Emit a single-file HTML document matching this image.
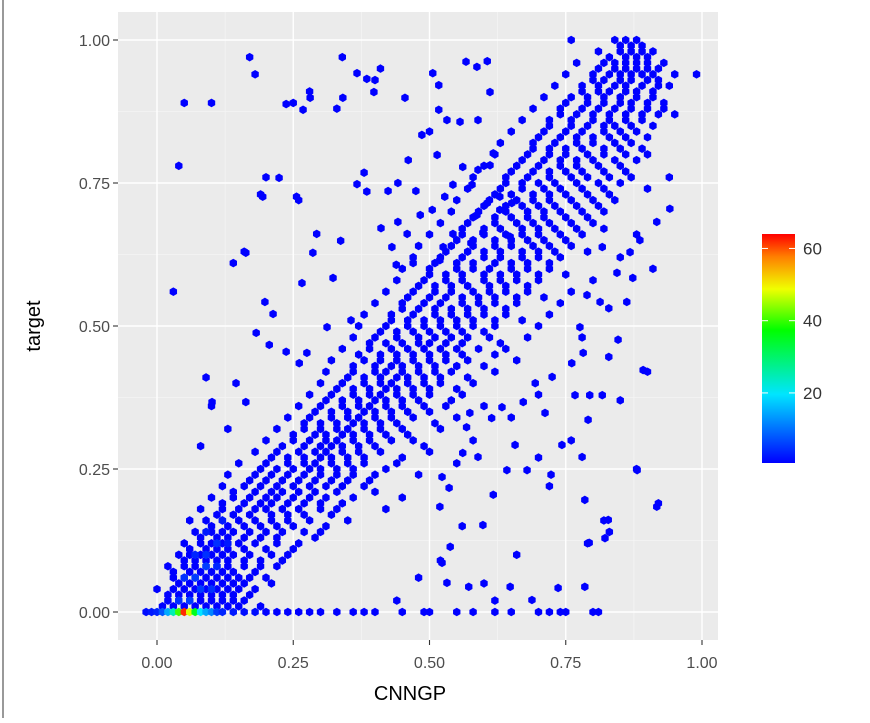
<!DOCTYPE html>
<html><head><meta charset="utf-8"><style>
body{margin:0;background:#fff;}
svg text{font-family:"Liberation Sans",sans-serif;}
</style></head><body>
<svg id="chart" width="870" height="718" xmlns="http://www.w3.org/2000/svg">
<rect x="0" y="0" width="870" height="718" fill="#fff"/>
<line x1="3" y1="0" x2="3" y2="718" stroke="#999" stroke-width="2"/>
<rect x="118" y="12" width="600" height="628" fill="#ebebeb"/>
<g id="grid"></g>
<g id="hexes"></g>
<g id="axes"></g>
<text x="410" y="700" font-size="20" text-anchor="middle" fill="#000">CNNGP</text>
<text x="40" y="326" font-size="20" text-anchor="middle" fill="#000" transform="rotate(-90 40 326)">target</text>
<defs><linearGradient id="cb" x1="0" y1="1" x2="0" y2="0">
<stop offset="0" stop-color="#0000ff"/><stop offset="0.3" stop-color="#00e5ff"/>
<stop offset="0.58" stop-color="#00ff00"/><stop offset="0.76" stop-color="#f0ff00"/>
<stop offset="0.9" stop-color="#ff8000"/><stop offset="1" stop-color="#ff0000"/></linearGradient></defs>
<rect x="762" y="234" width="33" height="229" fill="url(#cb)"/>
<g id="legend"></g>
</svg>
<script>
const xTicks=[0,0.25,0.5,0.75,1];
const xTickLabels=["0.00","0.25","0.50","0.75","1.00"];
const yTicks=[0,0.25,0.5,0.75,1];
const yTickLabels=["0.00","0.25","0.50","0.75","1.00"];
const legendValues=[20,40,60];
const rowY=[0.02,0.04,0.06,0.08,0.10,0.12,0.14,0.16,0.18,0.20,0.22,0.24,0.26,0.28,0.30,0.32,0.34,0.36,0.38,0.40,0.42,0.44,0.46,0.48,0.50,0.52,0.54,0.56,0.58,0.60,0.62,0.64,0.66,0.68,0.70,0.72,0.74,0.76,0.78,0.80,0.82,0.84,0.86,0.88,0.90,0.92,0.94,0.96,0.98,1.00];
const rowX=[
[0.02,0.04,0.06,0.08,0.10,0.12,0.14,0.16],
[0.0,0.03,0.05,0.07,0.09,0.11,0.13,0.15,0.18],
[0.03,0.05,0.07,0.09,0.11,0.13,0.15,0.17,0.20],
[0.02,0.05,0.07,0.09,0.11,0.13,0.16,0.19,0.22],
[0.04,0.06,0.08,0.10,0.12,0.14,0.17,0.21,0.24],
[0.05,0.08,0.10,0.12,0.15,0.18,0.22,0.26],
[0.07,0.10,0.12,0.14,0.17,0.20,0.23,0.27,0.30],
[0.06,0.09,0.12,0.15,0.18,0.21,0.24,0.28,0.35],
[0.08,0.12,0.15,0.18,0.20,0.23,0.26,0.30,0.33,0.42],
[0.10,0.14,0.17,0.20,0.22,0.25,0.28,0.31,0.36,0.45],
[0.12,0.16,0.19,0.22,0.25,0.28,0.31,0.34,0.38],
[0.13,0.18,0.21,0.24,0.27,0.30,0.33,0.36,0.40,0.48],
[0.15,0.20,0.24,0.27,0.29,0.32,0.35,0.38,0.44,0.55],
[0.18,0.22,0.26,0.29,0.31,0.34,0.37,0.41,0.50],
[0.20,0.25,0.28,0.31,0.33,0.36,0.39,0.43,0.47,0.58],
[0.22,0.27,0.30,0.33,0.35,0.38,0.41,0.45,0.52],
[0.24,0.28,0.32,0.35,0.37,0.40,0.43,0.47,0.55,0.65],
[0.26,0.30,0.34,0.37,0.39,0.42,0.45,0.49,0.53,0.60],
[0.28,0.32,0.36,0.39,0.41,0.44,0.47,0.50,0.56,0.70],
[0.30,0.34,0.38,0.41,0.43,0.46,0.49,0.52,0.58],
[0.31,0.36,0.40,0.42,0.45,0.48,0.51,0.54,0.62,0.90],
[0.32,0.38,0.41,0.44,0.47,0.50,0.53,0.57,0.66],
[0.34,0.39,0.43,0.46,0.49,0.52,0.55,0.59,0.64],
[0.36,0.40,0.44,0.48,0.51,0.54,0.57,0.61,0.68,0.78],
[0.37,0.42,0.46,0.49,0.52,0.55,0.58,0.62,0.70],
[0.38,0.43,0.47,0.51,0.54,0.57,0.60,0.64,0.72],
[0.40,0.45,0.49,0.52,0.56,0.59,0.62,0.66,0.74],
[0.42,0.47,0.51,0.54,0.58,0.61,0.64,0.68,0.76],
[0.44,0.49,0.53,0.56,0.60,0.63,0.66,0.70,0.80],
[0.45,0.50,0.55,0.58,0.61,0.65,0.68,0.72],
[0.47,0.52,0.56,0.60,0.63,0.67,0.70,0.74,0.85],
[0.48,0.54,0.58,0.62,0.65,0.69,0.72,0.76],
[0.50,0.56,0.60,0.64,0.67,0.70,0.74,0.78,0.88],
[0.52,0.57,0.62,0.66,0.69,0.72,0.76,0.80],
[0.54,0.59,0.64,0.68,0.71,0.74,0.78,0.82],
[0.55,0.61,0.66,0.69,0.72,0.76,0.80,0.84],
[0.57,0.63,0.67,0.71,0.74,0.78,0.82,0.90],
[0.58,0.64,0.68,0.72,0.76,0.79,0.83,0.87],
[0.60,0.66,0.70,0.74,0.77,0.81,0.85],
[0.62,0.68,0.72,0.75,0.79,0.82,0.86,0.90],
[0.63,0.69,0.73,0.77,0.80,0.84,0.87],
[0.50,0.65,0.71,0.75,0.78,0.82,0.85,0.88],
[0.67,0.72,0.76,0.80,0.83,0.86,0.89],
[0.69,0.74,0.78,0.81,0.84,0.87,0.90,0.93],
[0.71,0.76,0.79,0.82,0.85,0.88,0.91],
[0.73,0.78,0.81,0.84,0.86,0.89,0.92,0.94],
[0.75,0.80,0.83,0.85,0.87,0.89,0.91,0.95],
[0.77,0.82,0.84,0.86,0.88,0.90,0.93],
[0.81,0.85,0.87,0.89,0.91],
[0.76,0.84,0.86,0.88]];
const rowY2=[0.01,0.03,0.05,0.07,0.09,0.11,0.13,0.15,0.17,0.19,0.21,0.23,0.25,0.27,0.29,0.31,0.33,0.35,0.37,0.39,0.41,0.43,0.45,0.47,0.49,0.51,0.53,0.55,0.57,0.59,0.61,0.63,0.65,0.67,0.69,0.71,0.73,0.75,0.77,0.79,0.81,0.83,0.85,0.87,0.89,0.91,0.93,0.95,0.97,0.99];
const rowX2=[
[0.01,0.03,0.05,0.07,0.09,0.11,0.13,0.15,0.19],
[0.02,0.04,0.06,0.08,0.10,0.12,0.14,0.17],
[0.04,0.06,0.08,0.10,0.12,0.14,0.16,0.21],
[0.03,0.06,0.08,0.10,0.12,0.14,0.18],
[0.05,0.07,0.09,0.11,0.13,0.16,0.19,0.23],
[0.06,0.09,0.11,0.13,0.16,0.20,0.25],
[0.08,0.11,0.13,0.16,0.19,0.22,0.29],
[0.10,0.13,0.16,0.19,0.22,0.25,0.31],
[0.11,0.14,0.17,0.21,0.24,0.27,0.32],
[0.12,0.16,0.19,0.21,0.24,0.27,0.30,0.34],
[0.14,0.18,0.21,0.23,0.26,0.29,0.33,0.40],
[0.17,0.20,0.23,0.26,0.29,0.32,0.35,0.39],
[0.19,0.22,0.25,0.28,0.30,0.33,0.36,0.42],
[0.21,0.24,0.27,0.30,0.32,0.35,0.38,0.45],
[0.23,0.27,0.30,0.32,0.34,0.37,0.40,0.49],
[0.25,0.29,0.31,0.34,0.36,0.39,0.42,0.46],
[0.27,0.30,0.33,0.36,0.38,0.41,0.44,0.51],
[0.29,0.32,0.35,0.38,0.40,0.43,0.46,0.50],
[0.31,0.34,0.37,0.40,0.42,0.45,0.48,0.54],
[0.33,0.36,0.39,0.42,0.44,0.47,0.50,0.55],
[0.35,0.38,0.41,0.44,0.46,0.49,0.52,0.57],
[0.36,0.40,0.43,0.45,0.48,0.51,0.55,0.60],
[0.37,0.41,0.44,0.47,0.50,0.53,0.56,0.62],
[0.39,0.42,0.45,0.48,0.50,0.53,0.56,0.63],
[0.41,0.44,0.47,0.50,0.53,0.56,0.60],
[0.43,0.46,0.49,0.52,0.55,0.58,0.62,0.67],
[0.45,0.48,0.51,0.54,0.57,0.60,0.64],
[0.46,0.50,0.53,0.56,0.59,0.62,0.66,0.71],
[0.48,0.51,0.54,0.57,0.61,0.64,0.68],
[0.50,0.53,0.56,0.60,0.63,0.66,0.70,0.75],
[0.51,0.55,0.58,0.62,0.65,0.68,0.72],
[0.53,0.57,0.60,0.63,0.67,0.70,0.73,0.79],
[0.55,0.58,0.62,0.65,0.68,0.71,0.75],
[0.56,0.60,0.63,0.67,0.70,0.73,0.77,0.82],
[0.58,0.62,0.65,0.68,0.71,0.75,0.79],
[0.60,0.64,0.67,0.70,0.73,0.77,0.81],
[0.62,0.65,0.69,0.72,0.75,0.79,0.83],
[0.64,0.67,0.70,0.73,0.77,0.81,0.85],
[0.65,0.69,0.72,0.75,0.78,0.82,0.86],
[0.67,0.71,0.74,0.77,0.80,0.84,0.88],
[0.69,0.72,0.75,0.78,0.82,0.85,0.89],
[0.70,0.74,0.77,0.80,0.83,0.86,0.90],
[0.72,0.76,0.79,0.82,0.84,0.87,0.91],
[0.74,0.77,0.80,0.83,0.86,0.89,0.92],
[0.75,0.79,0.82,0.85,0.87,0.90,0.93],
[0.78,0.81,0.83,0.86,0.88,0.91],
[0.80,0.82,0.85,0.87,0.90,0.92],
[0.81,0.84,0.86,0.88,0.90,0.92],
[0.83,0.86,0.88,0.90],
[0.85,0.87,0.89]];
const outlierX=[0.05,0.10,0.04,0.17,0.18,0.03,0.09,0.20,0.26,0.19,0.25,0.28,0.34,0.41,0.40,0.33,0.14,0.16,0.13,0.08,0.10,0.92,0.88,0.82,0.79,0.83,0.76,0.85,0.91,0.94,0.95,0.99,0.60,0.66,0.56,0.70,0.72,0.48,0.44,0.52,0.62];
const outlierY=[0.89,0.89,0.78,0.97,0.94,0.56,0.41,0.76,0.72,0.73,0.89,0.91,0.97,0.95,0.93,0.88,0.61,0.63,0.32,0.29,0.36,0.19,0.25,0.16,0.12,0.14,0.30,0.37,0.60,0.76,0.87,0.94,0.05,0.10,0.15,0.27,0.22,0.06,0.02,0.09,0.02];
const scatterX=[0.776,0.846,0.829,0.892,0.761,0.782,0.725,0.694,0.767,0.794,0.817,0.791,0.712,0.672,0.633,0.614,0.574,0.568,0.657,0.743,0.780,0.881,0.723,0.679,0.642,0.589,0.561,0.617,0.785,0.917,0.598,0.828,0.536,0.523,0.519,0.538,0.523,0.532,0.572,0.648,0.736,0.785,0.688,0.793,0.822,0.886,0.917,0.941,0.862,0.829,0.873,0.844,0.813,0.789,0.868,0.817,
0.163,0.286,0.293,0.337,0.194,0.256,0.224,0.367,0.380,0.385,0.424,0.442,0.475,0.411,0.442,0.431,0.439,0.323,0.266,0.198,0.213,0.182,0.206,0.237,0.275,0.261,0.145,0.101,0.163,0.356,0.312,0.281,0.341,0.268,0.237,0.455,0.398,0.385,0.367,0.517,0.506,0.517,0.532,0.556,0.486,0.461,0.514,0.567,0.587,0.606,0.611,0.589,0.561,0.589,0.611,0.617,0.543,0.578,0.528,0.606,0.629,0.651,0.629,0.587,0.483,0.505,0.543,0.459,0.525,0.576,0.598,0.648,0.470,0.519];
const scatterY=[0.498,0.476,0.446,0.423,0.435,0.453,0.411,0.400,0.379,0.379,0.379,0.336,0.348,0.367,0.358,0.339,0.348,0.323,0.292,0.292,0.271,0.248,0.240,0.248,0.248,0.271,0.278,0.205,0.196,0.184,0.152,0.161,0.217,0.236,0.184,0.114,0.086,0.051,0.044,0.044,0.042,0.044,0.021,0.121,0.129,0.650,0.682,0.705,0.542,0.531,0.584,0.593,0.542,0.554,0.629,0.638,
0.628,0.628,0.661,0.649,0.726,0.726,0.759,0.748,0.768,0.735,0.736,0.750,0.736,0.671,0.682,0.638,0.607,0.584,0.575,0.542,0.521,0.488,0.467,0.455,0.453,0.435,0.400,0.367,0.367,0.510,0.498,0.899,0.899,0.878,0.888,0.899,0.909,0.932,0.942,0.921,0.942,0.878,0.860,0.857,0.834,0.790,0.799,0.962,0.953,0.963,0.909,0.860,0.778,0.773,0.781,0.802,0.747,0.747,0.726,0.715,0.726,0.715,0.703,0.694,0.694,0.703,0.661,0.661,0.638,0.645,0.663,0.656,0.610,0.615];
const bottomX=[-0.02,-0.01,0.0,0.01,0.02,0.03,0.04,0.05,0.06,0.07,0.08,0.09,0.10,0.11,0.12,0.14,0.16,0.18,0.20,0.22,0.24,0.26,0.28,0.30,0.33,0.36,0.38,0.40,0.45,0.49,0.50,0.55,0.58,0.62,0.65,0.70,0.72,0.74,0.75,0.80,0.81];
const bottomCount=[2,3,4,8,15,25,40,62,48,35,20,15,12,6,4,3,2,2,1,1,1,1,1,1,1,1,1,1,1,1,1,1,1,1,1,1,1,1,1,1,1];
const clusterX=[0.04,0.06,0.08,0.10,0.05,0.07,0.09,0.11,0.07,0.09,0.11,0.13,0.09,0.12];
const clusterY=[0.02,0.02,0.04,0.04,0.06,0.06,0.08,0.08,0.10,0.10,0.12,0.12,0.14,0.16];
const clusterCount=[5,6,6,5,5,6,6,4,4,5,5,3,3,3];

const X0=157,X1=702,Y0=612,Y1=40;
const sx=v=>X0+(X1-X0)*v, sy=v=>Y0-(Y0-Y1)*v;
const NS="http://www.w3.org/2000/svg";
function mk(tag,attrs,parent){const e=document.createElementNS(NS,tag);for(const k in attrs)e.setAttribute(k,attrs[k]);parent.appendChild(e);return e;}
const grid=document.getElementById('grid'),axes=document.getElementById('axes'),hexG=document.getElementById('hexes'),leg=document.getElementById('legend');
for(let i=0;i<xTicks.length-1;i++){
  const m=(xTicks[i]+xTicks[i+1])/2;
  const g=mk('line',{x1:sx(m),x2:sx(m),y1:12,y2:640,stroke:'#f5f5f5','stroke-width':0.7},grid);
  
  const m2=(yTicks[i]+yTicks[i+1])/2;
  const h=mk('line',{x1:118,x2:718,y1:sy(m2),y2:sy(m2),stroke:'#f5f5f5','stroke-width':0.7},grid);
  
}
xTicks.forEach((v,i)=>{
  const g=mk('line',{x1:sx(v),x2:sx(v),y1:12,y2:640,stroke:'#fff','stroke-width':1.4},grid);
  
  const t=mk('line',{x1:sx(v),x2:sx(v),y1:640,y2:645,stroke:'#333','stroke-width':1.1},axes);
  
  const l=mk('text',{x:sx(v),y:668,'font-size':16,'text-anchor':'middle',fill:'#4d4d4d'},axes);
  l.textContent=xTickLabels[i];
  
});
yTicks.forEach((v,i)=>{
  const g=mk('line',{x1:118,x2:718,y1:sy(v),y2:sy(v),stroke:'#fff','stroke-width':1.4},grid);
  
  const t=mk('line',{x1:113,x2:118,y1:sy(v),y2:sy(v),stroke:'#333','stroke-width':1.1},axes);
  
  const l=mk('text',{x:110,y:sy(v)+6,'font-size':16,'text-anchor':'end',fill:'#4d4d4d'},axes);
  l.textContent=yTickLabels[i];
  
});
const cStops=[[1,[0,0,255]],[20,[0,229,255]],[37,[0,255,0]],[49,[240,255,0]],[58,[255,128,0]],[64,[255,0,0]]];
function col(c){for(let i=0;i<cStops.length-1;i++){const[a,ca]=cStops[i],[b,cb]=cStops[i+1];if(c<=b){const t=Math.max(0,(c-a)/(b-a));return 'rgb('+ca.map((q,j)=>Math.round(q+(cb[j]-q)*t)).join(',')+')';}}return 'rgb(255,0,0)';}
function hex(x,y,c){
  const cx=sx(x),cy=sy(y),r=4.3,w=3.7;
  const pts=[[cx,cy-r],[cx+w,cy-r/2],[cx+w,cy+r/2],[cx,cy+r],[cx-w,cy+r/2],[cx-w,cy-r/2]].map(p=>p.join(',')).join(' ');
  const e=mk('polygon',{points:pts,fill:col(c)},hexG);
  
  
}
rowY.forEach((y,i)=>rowX[i].forEach(x=>hex(x,y,1)));
rowY2.forEach((y,i)=>rowX2[i].forEach(x=>hex(x,y,1)));
outlierX.forEach((x,i)=>hex(x,outlierY[i],1));
scatterX.forEach((x,i)=>hex(x,scatterY[i],1));
clusterX.forEach((x,i)=>hex(x,clusterY[i],clusterCount[i]));
bottomX.forEach((x,i)=>hex(x,0,bottomCount[i]));
const cbY=v=>463-(v-0.6)/(64-0.6)*229;
legendValues.forEach(v=>{
  const a=mk('line',{x1:762,x2:768,y1:cbY(v),y2:cbY(v),stroke:'#fff','stroke-width':1},leg);
  
  const b=mk('line',{x1:789,x2:795,y1:cbY(v),y2:cbY(v),stroke:'#fff','stroke-width':1},leg);
  
  const t=mk('text',{x:803,y:cbY(v)+6,'font-size':17,fill:'#333'},leg);
  t.textContent=v;
  
});
</script>
</body></html>
